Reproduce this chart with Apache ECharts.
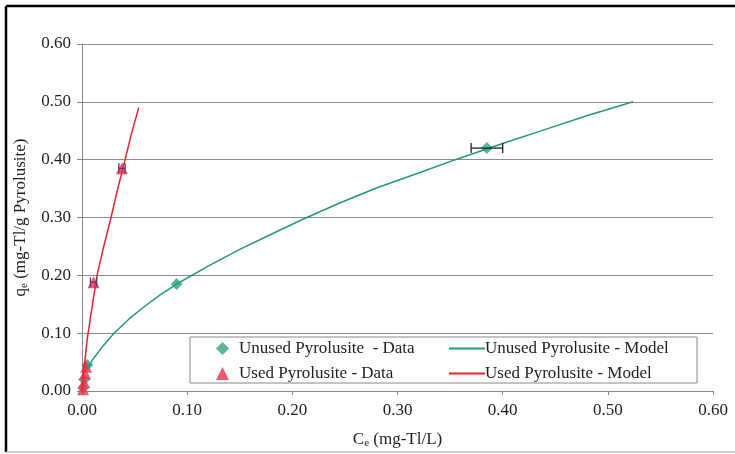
<!DOCTYPE html>
<html><head><meta charset="utf-8">
<script src="https://cdn.jsdelivr.net/npm/echarts@6/dist/echarts.min.js"></script>
<style>html,body{margin:0;padding:0;background:#fff;}#c{width:735px;height:454px;}</style>
</head><body><div id="c"></div>
<script>
var unusedData = [[0.001,0.005],[0.002,0.02],[0.005,0.045],[0.09,0.185],[0.385,0.42]];
var usedData = [[0.001,0.003],[0.002,0.015],[0.003,0.03],[0.004,0.042],[0.011,0.188],[0.038,0.385]];
var unusedModel = [[0.005,0.038],[0.01,0.054],[0.015,0.066],[0.02,0.078],[0.03,0.099],[0.045,0.125],[0.06,0.147],[0.075,0.167],[0.09,0.185],[0.12,0.216],[0.15,0.245],[0.18,0.271],[0.21,0.297],[0.245,0.325],[0.28,0.351],[0.32,0.377],[0.355,0.40],[0.40,0.428],[0.44,0.452],[0.48,0.476],[0.524,0.50]];
var usedModel = [[0.0,0.0],[0.002,0.04],[0.005,0.09],[0.0095,0.144],[0.0143,0.20],[0.02,0.245],[0.0276,0.30],[0.034,0.35],[0.041,0.40],[0.047,0.445],[0.054,0.49]];
var unusedErr = [[0.385,0.42,0.37,0.40]];
var usedErr = [[0.038,0.385,0.035,0.041],[0.011,0.188,0.008,0.014]];
var xTicks = ['0.00','0.10','0.20','0.30','0.40','0.50','0.60'];
var yTicks = ['0.00','0.10','0.20','0.30','0.40','0.50','0.60'];

var FONT = '"Liberation Serif", "DejaVu Serif", serif';
var TXT = '#1e1e1e';
var GREEN = '#2aa383', RED = '#f0304a';

function errRender(color){
  return function(params, api){
    var y = api.value(1);
    var p1 = api.coord([api.value(2), y]);
    var p2 = api.coord([api.value(3), y]);
    var h = 5;
    var st = {stroke: color, lineWidth: 1.3};
    return {type:'group', children:[
      {type:'line', shape:{x1:p1[0],y1:p1[1],x2:p2[0],y2:p2[1]}, style:st},
      {type:'line', shape:{x1:p1[0],y1:p1[1]-h,x2:p1[0],y2:p1[1]+h}, style:st},
      {type:'line', shape:{x1:p2[0],y1:p2[1]-h,x2:p2[0],y2:p2[1]+h}, style:st}
    ]};
  };
}
var nameRich = {a:{fontSize:17, color:TXT, fontFamily:FONT}, s:{fontSize:11, color:TXT, fontFamily:FONT, verticalAlign:'bottom', padding:[7,0,0,0]}};

var chart = echarts.init(document.getElementById('c'));
chart.setOption({
  animation:false,
  backgroundColor:'#fff',
  textStyle:{fontFamily:FONT},
  grid:{left:82, right:22, top:44, bottom:63},
  xAxis:{type:'value', min:0, max:0.6, interval:0.1,
    axisLine:{show:true, lineStyle:{color:'#888', width:1}},
    axisTick:{show:true, length:4, lineStyle:{color:'#888'}},
    splitLine:{show:false},
    axisLabel:{color:TXT, fontSize:17, fontFamily:FONT, margin:11,
      formatter:function(v){return xTicks[Math.round(v*10)];}},
    name:'{a|C}{s|e}{a| (mg-Tl/L)}', nameLocation:'middle', nameGap:40,
    nameTextStyle:{rich:nameRich}
  },
  yAxis:{type:'value', min:0, max:0.6, interval:0.1,
    axisLine:{show:true, lineStyle:{color:'#888', width:1}},
    axisTick:{show:true, length:5, lineStyle:{color:'#888'}},
    splitLine:{show:true, lineStyle:{color:'#8c8c8c', width:1}},
    axisLabel:{color:TXT, fontSize:17, fontFamily:FONT, margin:11,
      formatter:function(v){return yTicks[Math.round(v*10)];}},
    name:'{a|q}{s|e}{a| (mg-Tl/g Pyrolusite)}', nameLocation:'middle', nameGap:52,
    nameTextStyle:{rich:nameRich}
  },
  legend:[
    {left:211, top:335, orient:'vertical', itemGap:8, itemWidth:13, itemHeight:13,
      textStyle:{fontSize:17, color:TXT, fontFamily:FONT, padding:[0,0,0,5]},
      data:['Unused Pyrolusite  - Data','Used Pyrolusite - Data']},
    {left:443, top:335, orient:'vertical', itemGap:8, itemWidth:36, itemHeight:13,
      itemStyle:{opacity:0},
      textStyle:{fontSize:17, color:TXT, fontFamily:FONT, padding:[0,0,0,-5]},
      data:['Unused Pyrolusite - Model','Used Pyrolusite - Model']}
  ],
  graphic:[
    {type:'rect', shape:{x:190, y:337, width:507, height:46}, style:{fill:'rgba(255,255,255,0)', stroke:'#888', lineWidth:1}, z:10},
    {type:'line', shape:{x1:6, y1:6, x2:735, y2:6}, style:{stroke:'#000', lineWidth:2.5}},
    {type:'line', shape:{x1:6, y1:6, x2:6, y2:452}, style:{stroke:'#000', lineWidth:2.5}},
    {type:'line', shape:{x1:6, y1:452, x2:735, y2:452}, style:{stroke:'#bbb', lineWidth:1.5}}
  ],
  series:[
    {name:'Unused Pyrolusite  - Data', type:'scatter', symbol:'diamond', symbolSize:12, itemStyle:{color:GREEN}, data:unusedData, z:3},
    {name:'Used Pyrolusite - Data', type:'scatter', symbol:'triangle', symbolSize:12, itemStyle:{color:RED}, data:usedData, z:4},
    {name:'Unused Pyrolusite - Model', type:'line', symbol:'none', smooth:false, lineStyle:{color:'#1f9a7a', width:1.5}, itemStyle:{color:'#1f9a7a'}, data:unusedModel, z:5},
    {name:'Used Pyrolusite - Model', type:'line', symbol:'none', smooth:false, lineStyle:{color:'#f02030', width:1.5}, itemStyle:{color:'#f02030'}, data:usedModel, z:6},
    {type:'custom', renderItem:errRender('#222'), data:unusedErr, z:7, encode:{x:[0,2,3], y:1}},
    {type:'custom', renderItem:errRender('#5a3a6a'), data:usedErr, z:7, encode:{x:[0,2,3], y:1}}
  ]
});
</script></body></html>
